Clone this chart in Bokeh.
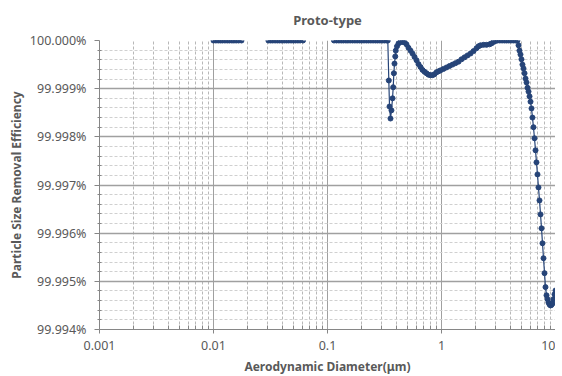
from bokeh.plotting import figure
from bokeh.models import FixedTicker, PrintfTickFormatter, CustomJSTickFormatter, Range1d, ColumnDataSource
from bokeh.embed import file_html
from bokeh.resources import INLINE

nan = float("nan")

# ---- data (diameter in um, efficiency in %) ----
seg_a_d = [0.0100, 0.0105, 0.0110, 0.0115, 0.0120, 0.0126, 0.0132, 0.0138, 0.0145,
           0.0151, 0.0158, 0.0166, 0.0176]
seg_a_eff = [100.0, 100.0, 100.0, 100.0, 100.0, 100.0, 100.0, 100.0, 100.0,
             100.0, 100.0, 100.0, 100.0]

seg_b_d = [0.0303, 0.0317, 0.0331, 0.0347, 0.0363, 0.0380, 0.0398, 0.0417, 0.0437,
           0.0457, 0.0479, 0.0501, 0.0525, 0.0550, 0.0575, 0.0610]
seg_b_eff = [100.0, 100.0, 100.0, 100.0, 100.0, 100.0, 100.0, 100.0, 100.0,
             100.0, 100.0, 100.0, 100.0, 100.0, 100.0, 100.0]

seg_c_d = [0.114, 0.120, 0.126, 0.132, 0.138, 0.145, 0.151, 0.158, 0.166, 0.174,
           0.182, 0.191, 0.200, 0.209, 0.219, 0.229, 0.240, 0.251, 0.263, 0.275,
           0.288, 0.302, 0.316, 0.331, 0.338,
           0.345, 0.350, 0.357, 0.364, 0.372, 0.377, 0.382, 0.387, 0.393, 0.397,
           0.407, 0.420, 0.437, 0.455, 0.474, 0.493, 0.513, 0.535, 0.557, 0.580,
           0.604, 0.628, 0.654, 0.681, 0.710, 0.739, 0.769, 0.801, 0.834, 0.868,
           0.904, 0.941, 0.980, 1.041, 1.106, 1.175, 1.249, 1.327, 1.410, 1.498,
           1.592, 1.691, 1.797, 1.909, 2.028, 2.112, 2.198, 2.336, 2.482, 2.637,
           2.746, 2.858, 2.976, 3.098, 3.25, 3.40, 3.56, 3.72, 3.89, 4.07,
           4.26, 4.45, 4.64, 4.74, 4.83, 4.93, 5.03, 5.13, 5.24, 5.35,
           5.46, 5.57, 5.68, 5.80, 5.92, 6.04, 6.16, 6.28, 6.41, 6.54,
           6.68, 6.81, 6.95, 7.09, 7.24, 7.39, 7.54, 7.69, 7.85, 8.01,
           8.17, 8.34, 8.51, 8.68, 8.86, 9.04, 9.22, 9.41, 9.60, 9.80, 10.0]
seg_c_eff = [100.0, 100.0, 100.0, 100.0, 100.0, 100.0, 100.0, 100.0, 100.0, 100.0,
             100.0, 100.0, 100.0, 100.0, 100.0, 100.0, 100.0, 100.0, 100.0, 100.0,
             100.0, 100.0, 100.0, 100.0, 100.0,
             99.99917, 99.99863, 99.99838, 99.99855, 99.99880, 99.99903, 99.99932, 99.99952, 99.99967, 99.99979,
             99.99988, 99.99994, 99.99997, 99.99997, 99.99996, 99.99992, 99.99985, 99.99979, 99.99973, 99.99966,
             99.99959, 99.99951, 99.99945, 99.99939, 99.99935, 99.99932, 99.99929, 99.99928, 99.99928, 99.99930,
             99.99934, 99.99936, 99.99938, 99.99941, 99.99944, 99.99947, 99.99950, 99.99953, 99.99956, 99.99961,
             99.99965, 99.99969, 99.99973, 99.99978, 99.99984, 99.99988, 99.99990, 99.99991, 99.99991, 99.99992,
             99.99994, 99.99997, 99.99999, 100.0, 100.0, 100.0, 100.0, 100.0, 100.0, 100.0,
             100.0, 100.0, 100.0, 99.99990, 99.99979, 99.99971, 99.99961, 99.99950, 99.99942, 99.99932,
             99.99921, 99.99913, 99.99902, 99.99894, 99.99884, 99.99873, 99.99859, 99.99840, 99.99820, 99.99797,
             99.99772, 99.99747, 99.99722, 99.99695, 99.99668, 99.99639, 99.99610, 99.99579, 99.99548, 99.99517,
             99.99488, 99.99471, 99.99463, 99.99456, 99.99452, 99.99450, 99.99451, 99.99454, 99.99463, 99.99473, 99.99481]

x_ticks = [0.001, 0.01, 0.1, 1, 10]
y_ticks = [99.994, 99.995, 99.996, 99.997, 99.998, 99.999, 100.0]

title_text = "Proto-type"
x_label = "Aerodynamic Diameter(\u03bcm)"
y_label = "Particle Size Removal Efficiency"

# ---- build ----
x_minor = [m * 10.0 ** e for e in range(-3, 1) for m in range(2, 10)]
y_minor = [round(99.994 + 0.0002 * i, 4) for i in range(31) if i % 5]

xs = seg_a_d + [nan] + seg_b_d + [nan] + seg_c_d
ys = seg_a_eff + [nan] + seg_b_eff + [nan] + seg_c_eff
src = ColumnDataSource(data=dict(d=xs, eff=ys))

FONT = "Noto Sans"
GRAY = "#595959"

p = figure(frame_width=456, frame_height=289, x_axis_type="log",
           x_range=Range1d(0.001, 10), y_range=Range1d(99.994, 100.0),
           output_backend="svg", toolbar_location=None,
           min_border=0,
           min_border_left=99, min_border_right=0, min_border_top=40, min_border_bottom=0,
           title=title_text)
p.outline_line_color = None
p.background_fill_color = "white"
p.border_fill_color = "white"

p.title.align = "center"
p.title.vertical_align = "top"
p.title.text_font = FONT
p.title.text_font_size = "13px"
p.title.text_font_style = "bold"
p.title.text_color = GRAY
p.title.standoff = 19

xt = FixedTicker(ticks=x_ticks, minor_ticks=x_minor)
yt = FixedTicker(ticks=y_ticks, minor_ticks=y_minor)
p.xaxis.ticker = xt
p.yaxis.ticker = yt
p.xgrid.ticker = xt
p.ygrid.ticker = yt
p.xaxis.formatter = CustomJSTickFormatter(code="return String(tick);")
p.yaxis.formatter = PrintfTickFormatter(format="%.3f%%")

for ax in (p.xaxis[0], p.yaxis[0]):
    ax.axis_line_color = "#868686"
    ax.major_tick_line_color = "#868686"
    ax.minor_tick_line_color = "#868686"
    ax.major_label_text_font = FONT
    ax.major_label_text_font_size = "12.5px"
    ax.major_label_text_color = GRAY
    ax.axis_label_text_font = FONT
    ax.axis_label_text_font_size = "12px"
    ax.axis_label_text_font_style = "bold"
    ax.axis_label_text_color = GRAY

p.xaxis.axis_label = x_label
p.yaxis.axis_label = y_label
p.xaxis.major_tick_out = 4
p.xaxis.major_tick_in = 0
p.xaxis.minor_tick_in = 4
p.xaxis.minor_tick_out = 0
p.xaxis.major_label_standoff = 7
p.xaxis.axis_label_standoff = 5
p.xaxis.major_label_text_line_height = 1.0
p.xaxis.axis_label_text_line_height = 1.0
p.yaxis.major_tick_out = 5
p.yaxis.major_tick_in = 0
p.yaxis.minor_tick_in = 2
p.yaxis.minor_tick_out = 2
p.yaxis.major_label_standoff = 8
p.yaxis.axis_label_standoff = 2

p.xgrid.grid_line_color = "#a0a0a0"
p.xgrid.minor_grid_line_color = "#b8b8b8"
p.xgrid.minor_grid_line_dash = "3 2"
p.ygrid.grid_line_color = "#a0a0a0"
p.ygrid.grid_line_width = 1.4
p.ygrid.minor_grid_line_color = "#d0d0d0"
p.ygrid.minor_grid_line_dash = "3 2"

BLUE = "#264478"
p.line("d", "eff", source=src, line_color=BLUE, line_width=1.2)
p.scatter("d", "eff", source=src, size=5, fill_color=BLUE, line_color=BLUE)

open("out.html", "w").write(file_html(p, INLINE))
